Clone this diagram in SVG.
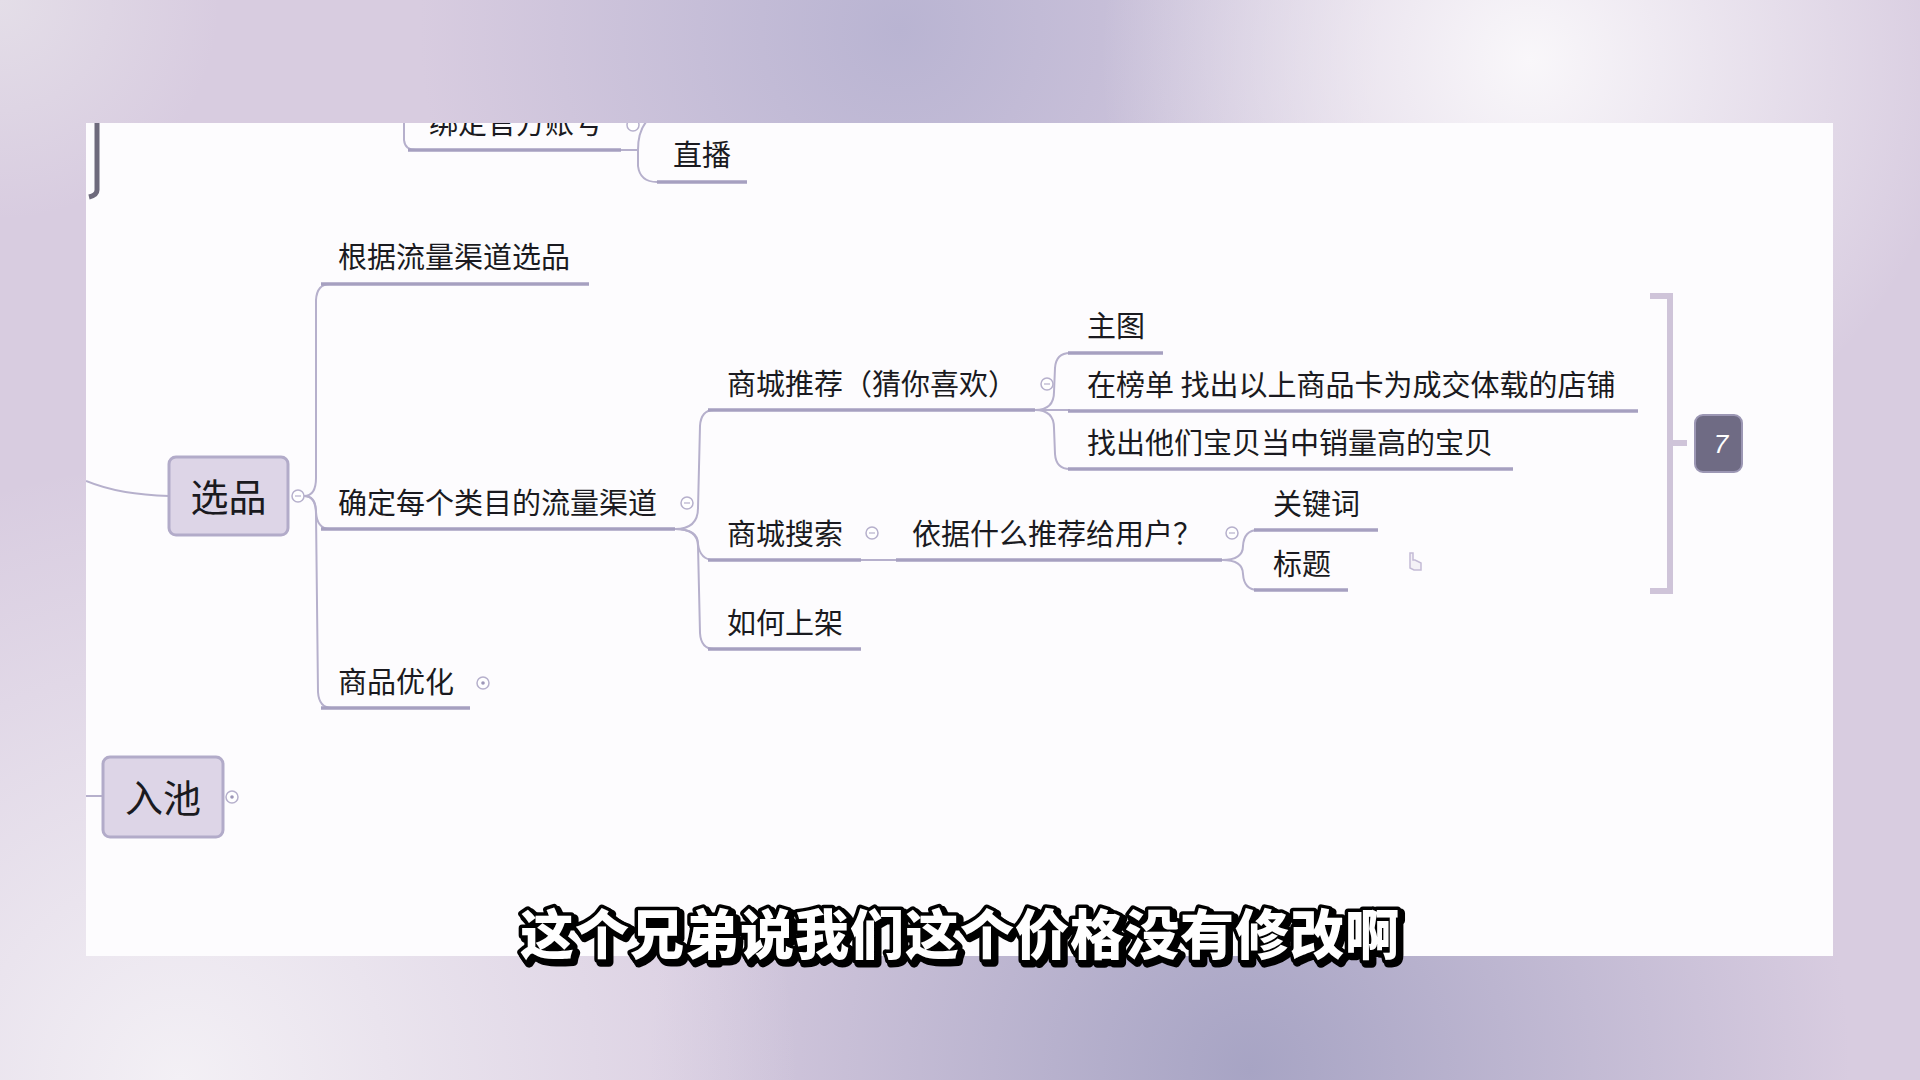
<svg xmlns="http://www.w3.org/2000/svg" width="1920" height="1080" viewBox="0 0 1920 1080">
<defs>
<radialGradient id="gTR" cx="1530" cy="60" r="430" gradientUnits="userSpaceOnUse"><stop offset="0" stop-color="#f9f7fa"/><stop offset="1" stop-color="#f9f7fa" stop-opacity="0"/></radialGradient>
<radialGradient id="gTC" cx="900" cy="30" r="480" gradientUnits="userSpaceOnUse"><stop offset="0" stop-color="#b9b4d2"/><stop offset="1" stop-color="#b9b4d2" stop-opacity="0"/></radialGradient>
<radialGradient id="gBL" cx="180" cy="1080" r="620" gradientUnits="userSpaceOnUse"><stop offset="0" stop-color="#f3f0f5"/><stop offset="1" stop-color="#f3f0f5" stop-opacity="0"/></radialGradient>
<radialGradient id="gBR" cx="1250" cy="1070" r="600" gradientUnits="userSpaceOnUse"><stop offset="0" stop-color="#a7a4c4"/><stop offset="1" stop-color="#a7a4c4" stop-opacity="0"/></radialGradient>
<radialGradient id="gTL" cx="0" cy="0" r="220" gradientUnits="userSpaceOnUse"><stop offset="0" stop-color="#e4dee8"/><stop offset="1" stop-color="#e4dee8" stop-opacity="0"/></radialGradient>
<clipPath id="panel"><rect x="86" y="123" width="1747" height="833"/></clipPath>
<style>
.t{font-family:"Noto Sans CJK SC","Noto Sans",sans-serif;font-size:29px;fill:#1a1a20}
.big{font-size:38px}
.ln{fill:none;stroke:#b6b0cc;stroke-width:2}
.ul{fill:none;stroke:#a6a0c0;stroke-width:3.5}
.box{fill:#ddd5e7;stroke:#b2abc9;stroke-width:3}
.cc{fill:#fff;stroke:#b6b0cc;stroke-width:1.5}
.cm{stroke:#b6b0cc;stroke-width:1.2}
.sub{font-family:"Noto Sans CJK SC",sans-serif;font-size:54px;font-weight:900;letter-spacing:1px}
</style>
</defs>

<!-- background -->
<rect x="0" y="0" width="1920" height="1080" fill="#d8cce0"/>
<rect x="0" y="0" width="1920" height="1080" fill="url(#gTC)"/>
<rect x="0" y="0" width="1920" height="1080" fill="url(#gBR)"/>
<rect x="0" y="0" width="1920" height="1080" fill="url(#gTR)"/>
<rect x="0" y="0" width="1920" height="1080" fill="url(#gBL)"/>
<rect x="0" y="0" width="1920" height="1080" fill="url(#gTL)"/>

<!-- screen panel -->
<rect x="86" y="123" width="1747" height="833" fill="#fdfcfe"/>

<g clip-path="url(#panel)">
<!-- connectors -->
<g id="connectors">
  <path class="ln" d="M404 118 L404 140 Q405 150 416 150"/>
  <path class="ln" d="M620 150 L638 150"/>
  <path class="ln" d="M650 118 Q638 128 638 150 L638 166 Q640 182 657 182"/>
  <path d="M97 118 L97 190 Q97 195 89 197" fill="none" stroke="#6e6a7c" stroke-width="5"/>
  <path class="ln" d="M86 481 Q120 495 169 496"/>
  <path class="ln" d="M86 796 L103 796"/>
  <path class="ln" d="M304 496 Q316 496 316 478 L316 300 Q317 284 330 284"/>
  <path class="ln" d="M304 496 Q316 496 316 512 Q317 529 330 529"/>
  <path class="ln" d="M304 496 Q316 496 316 514 L318 692 Q319 708 332 708"/>
  <path class="ln" d="M675 529 Q698 529 698 508 L700 426 Q701 410 714 410"/>
  <path class="ln" d="M675 529 Q698 529 698 544 Q700 560 714 560"/>
  <path class="ln" d="M675 529 Q698 529 698 546 L700 633 Q701 649 714 649"/>
  <path class="ln" d="M1035 410 Q1054 410 1054 392 L1055 368 Q1056 353 1070 353"/>
  <path class="ln" d="M1035 410 L1070 410"/>
  <path class="ln" d="M1035 410 Q1054 410 1054 428 L1055 454 Q1056 469 1070 469"/>
  <path class="ln" d="M861 560 L896 560"/>
  <path class="ln" d="M1222 560 Q1243 560 1243 546 Q1244 530 1258 530"/>
  <path class="ln" d="M1222 560 Q1243 560 1243 574 Q1244 590 1258 590"/>
  <path d="M1650 296 L1670 296 L1670 591 L1650 591 M1670 443 L1687 443" fill="none" stroke="#cfc4d9" stroke-width="6"/>
</g>

<g id="n-bangding">
  <text class="t" x="429" y="134">绑定官方账号</text>
  <line class="ul" x1="408" y1="150" x2="621" y2="150"/>
  <circle class="cc" cx="633" cy="125" r="6"/>
</g>
<g id="n-zhibo">
  <text class="t" x="673" y="166">直播</text>
  <line class="ul" x1="657" y1="182" x2="747" y2="182"/>
</g>

<g id="n-xuanpin">
  <rect class="box" x="169" y="457" width="119" height="78" rx="7"/>
  <text class="t big" x="228.5" y="511" text-anchor="middle">选品</text>
  <circle class="cc" cx="298" cy="496" r="6"/>
  <line class="cm" x1="295" y1="496" x2="301" y2="496"/>
</g>

<g id="n-genju">
  <text class="t" x="338" y="268">根据流量渠道选品</text>
  <line class="ul" x1="321" y1="284" x2="589" y2="284"/>
</g>

<g id="n-queding">
  <text class="t" x="338" y="514">确定每个类目的流量渠道</text>
  <line class="ul" x1="321" y1="529" x2="675" y2="529"/>
  <circle class="cc" cx="687" cy="503" r="6"/>
  <line class="cm" x1="684" y1="503" x2="690" y2="503"/>
</g>

<g id="n-youhua">
  <text class="t" x="338" y="693">商品优化</text>
  <line class="ul" x1="321" y1="708" x2="470" y2="708"/>
  <circle class="cc" cx="483" cy="683" r="6"/>
  <circle cx="483" cy="683" r="1.8" fill="#9d97b8"/>
</g>

<g id="n-tuijian">
  <text class="t" x="727" y="395">商城推荐（猜你喜欢）</text>
  <line class="ul" x1="708" y1="410" x2="1035" y2="410"/>
  <circle class="cc" cx="1047" cy="384" r="6"/>
  <line class="cm" x1="1044" y1="384" x2="1050" y2="384"/>
</g>

<g id="n-sousuo">
  <text class="t" x="727" y="545">商城搜索</text>
  <line class="ul" x1="708" y1="560" x2="861" y2="560"/>
  <circle class="cc" cx="872" cy="533" r="6"/>
  <line class="cm" x1="869" y1="533" x2="875" y2="533"/>
</g>

<g id="n-shangjia">
  <text class="t" x="727" y="634">如何上架</text>
  <line class="ul" x1="708" y1="649" x2="861" y2="649"/>
</g>

<g id="n-zhutu">
  <text class="t" x="1087" y="337">主图</text>
  <line class="ul" x1="1068" y1="353" x2="1163" y2="353"/>
</g>

<g id="n-bangdan">
  <text class="t" x="1087" y="396">在榜单 找出以上商品卡为成交体载的店铺</text>
  <line class="ul" x1="1068" y1="411" x2="1638" y2="411"/>
</g>

<g id="n-zhaochu">
  <text class="t" x="1087" y="454">找出他们宝贝当中销量高的宝贝</text>
  <line class="ul" x1="1068" y1="469" x2="1513" y2="469"/>
</g>

<g id="n-yiju">
  <text class="t" x="912" y="545">依据什么推荐给用户？</text>
  <line class="ul" x1="896" y1="560" x2="1222" y2="560"/>
  <circle class="cc" cx="1232" cy="533" r="6"/>
  <line class="cm" x1="1229" y1="533" x2="1235" y2="533"/>
</g>

<g id="n-guanjianci">
  <text class="t" x="1273" y="515">关键词</text>
  <line class="ul" x1="1254" y1="530" x2="1378" y2="530"/>
</g>

<g id="n-biaoti">
  <text class="t" x="1273" y="575">标题</text>
  <line class="ul" x1="1254" y1="590" x2="1348" y2="590"/>
</g>

<g id="n-summary">
  <rect x="1695" y="415" width="47" height="57" rx="8" fill="#6f6b84" stroke="#9c97b4" stroke-width="2"/>
  <text x="1721" y="453" text-anchor="middle" font-family="Liberation Sans, sans-serif" font-size="26" font-style="italic" fill="#ffffff">7</text>
</g>

<g id="n-ruchi">
  <rect class="box" x="103" y="757" width="120" height="80" rx="7"/>
  <text class="t big" x="163" y="812" text-anchor="middle">入池</text>
  <circle class="cc" cx="232" cy="797" r="6"/>
  <circle cx="232" cy="797" r="1.8" fill="#9d97b8"/>
</g>

<path d="M1410 553 L1410 568 L1414 570 L1421 570 L1421 563 L1415 560 L1413 560 L1413 553 Z" fill="#f4f1f7" stroke="#c4bbd6" stroke-width="1.5"/>
</g>

<g id="subtitle">
  <text class="sub" x="963" y="958" text-anchor="middle" fill="#000" stroke="#000" stroke-width="9" stroke-linejoin="round">这个兄弟说我们这个价格没有修改啊</text>
  <text class="sub" x="960" y="955" text-anchor="middle" fill="#ffffff" stroke="#000" stroke-width="7" stroke-linejoin="round" paint-order="stroke">这个兄弟说我们这个价格没有修改啊</text>
</g>
</svg>
